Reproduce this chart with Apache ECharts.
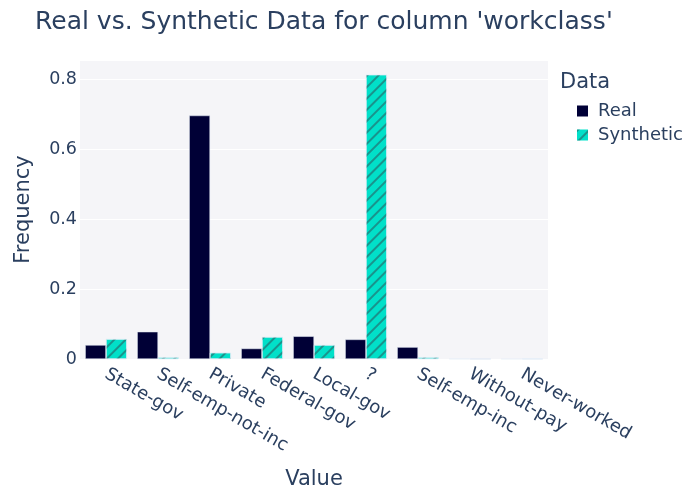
<!DOCTYPE html>
<html>
<head>
<meta charset="utf-8">
<script src="https://cdn.jsdelivr.net/npm/echarts@6/dist/echarts.min.js"></script>
<style>html,body{margin:0;padding:0;background:#fff}#c{width:700px;height:500px}</style>
</head>
<body>
<div id="c"></div>
<script>
const categories = ['State-gov','Self-emp-not-inc','Private','Federal-gov','Local-gov','?','Self-emp-inc','Without-pay','Never-worked'];
const realValues = [0.040, 0.078, 0.697, 0.030, 0.065, 0.056, 0.034, 0.0005, 0.0003];
const syntheticValues = [0.057, 0.005, 0.018, 0.063, 0.040, 0.814, 0.005, 0.0006, 0.0004];
const yTicks = [0, 0.2, 0.4, 0.6, 0.8];

const txt = '#2a3f5f';
const font = 'DejaVu Sans';
const chart = echarts.init(document.getElementById('c'));
chart.setOption({
  animation: false,
  textStyle: { fontFamily: font, color: txt },
  title: [
    { text: "Real vs. Synthetic Data for column 'workclass'", left: 30, top: 5,
      textStyle: { fontFamily: font, fontSize: 25, fontWeight: 'normal', color: txt } },
    { text: 'Data', left: 555, top: 67,
      textStyle: { fontFamily: font, fontSize: 21, fontWeight: 'normal', color: txt } }
  ],
  legend: {
    orient: 'vertical', left: 572, top: 97, itemWidth: 11, itemHeight: 11, itemGap: 6,
    icon: 'rect',
    itemStyle: { borderWidth: 0 },
    textStyle: { fontFamily: font, fontSize: 18, color: txt, padding: [0, 0, 0, 5] },
    data: ['Real', 'Synthetic']
  },
  grid: { left: 80, right: 152, top: 60, bottom: 141, backgroundColor: '#F5F5F8', show: true, borderWidth: 0 },
  xAxis: {
    type: 'category', data: categories,
    name: 'Value', nameLocation: 'middle', nameGap: 110,
    nameTextStyle: { fontFamily: font, fontSize: 21, color: txt },
    axisLine: { show: false }, axisTick: { show: false },
    axisLabel: { rotate: -30, fontFamily: font, fontSize: 18, color: txt, margin: 14, interval: 0 }
  },
  yAxis: {
    type: 'value', min: 0, max: 0.856, interval: 0.2,
    name: 'Frequency', nameLocation: 'middle', nameGap: 46,
    nameTextStyle: { fontFamily: font, fontSize: 21, color: txt },
    axisLine: { show: false }, axisTick: { show: false },
    splitLine: { lineStyle: { color: '#ffffff', width: 1 } },
    axisLabel: { fontFamily: font, fontSize: 17.5, color: txt, margin: 3, showMaxLabel: false,
      formatter: v => yTicks.some(t => Math.abs(t - v) < 1e-9) ? String(+v.toFixed(1)) : '' }
  },
  series: [
    { name: 'Real', type: 'bar', data: realValues, barGap: '0%', barCategoryGap: '20%',
      itemStyle: { color: '#000036', borderColor: '#E5ECF6', borderWidth: 0.5 } },
    { name: 'Synthetic', type: 'bar', data: syntheticValues,
      itemStyle: { color: '#01E0C9', borderColor: '#E5ECF6', borderWidth: 0.5,
        decal: { symbol: 'rect', symbolSize: 1, dashArrayX: [1, 0], dashArrayY: [1.5, 6], rotation: -Math.PI / 4, color: 'rgba(50,70,80,0.5)' } } }
  ]
});
</script>
</body>
</html>
